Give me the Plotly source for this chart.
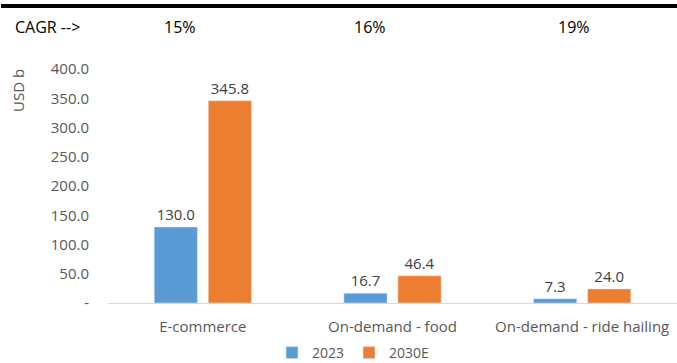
import plotly.graph_objects as go

categories = ["E-commerce", "On-demand - food", "On-demand - ride hailing"]
values_2023 = [130.0, 16.7, 7.3]
values_2030 = [345.8, 46.4, 24.0]
cagr = ["15%", "16%", "19%"]
tick_vals = [0, 50, 100, 150, 200, 250, 300, 350, 400]
tick_text = ["-", "50.0", "100.0", "150.0", "200.0", "250.0", "300.0", "350.0", "400.0"]

FONT = "Open Sans"
W, H = 677, 363
ML, MR, MT, MB = 108, 0, 69, 60

fig = go.Figure()
fig.add_trace(go.Bar(
    name="2023", x=categories, y=values_2023, marker_color="#5B9BD5",
    text=[f"{v:.1f}" for v in values_2023], textposition="outside",
    textfont=dict(color="#404040", size=15, family=FONT), cliponaxis=False,
))
fig.add_trace(go.Bar(
    name="2030E", x=categories, y=values_2030, marker_color="#ED7D31",
    text=[f"{v:.1f}" for v in values_2030], textposition="outside",
    textfont=dict(color="#404040", size=15, family=FONT), cliponaxis=False,
))

pw = W - ML - MR
ph = H - MT - MB
cagr_shift = [-23, -23, -8]
for i, c in enumerate(cagr):
    fig.add_annotation(x=i, xref="x", y=(H - 27 - MB) / ph, yref="paper",
                       text=c, showarrow=False, xshift=cagr_shift[i],
                       xanchor="center", yanchor="middle",
                       font=dict(size=16, color="#000000", family=FONT))
fig.add_annotation(x=(13 - ML) / pw, xref="paper", y=(H - 27 - MB) / ph, yref="paper",
                   text="CAGR -->", showarrow=False, xanchor="left", yanchor="middle",
                   font=dict(size=16, color="#000000", family=FONT))
fig.add_annotation(x=(18 - ML) / pw, xref="paper", y=(H - 91 - MB) / ph, yref="paper",
                   text="USD b", showarrow=False, textangle=-90,
                   xanchor="center", yanchor="middle",
                   font=dict(size=15, color="#595959", family=FONT))
fig.add_shape(type="rect", xref="paper", yref="paper",
              x0=(1 - ML) / pw, x1=1, y0=(H - 8 - MB) / ph, y1=(H - 4 - MB) / ph,
              fillcolor="#000000", line_width=0, layer="above")

fig.update_layout(
    width=W, height=H, autosize=False,
    margin=dict(l=ML, r=MR, t=MT, b=MB, autoexpand=False),
    paper_bgcolor="white", plot_bgcolor="white",
    barmode="group", bargap=0.43, bargroupgap=0.2,
    font=dict(family=FONT, color="#595959", size=14),
    showlegend=True,
    legend=dict(orientation="h", x=(272 - ML) / pw, xanchor="left",
                yref="container", y=(H - 353) / H, yanchor="middle",
                bgcolor="rgba(0,0,0,0)",
                font=dict(size=14, color="#595959", family=FONT),
                itemwidth=30, traceorder="normal", tracegroupgap=0),
    xaxis=dict(showline=True, linecolor="#D9D9D9", linewidth=1, ticks="",
               tickfont=dict(size=15, color="#595959"), showgrid=False,
               ticklabelstandoff=10),
    yaxis=dict(range=[0, 400], tickvals=tick_vals, ticktext=tick_text,
               showgrid=False, zeroline=False, showline=False,
               tickfont=dict(size=15, color="#595959"), ticklabelstandoff=18),
)

fig.write_html("out.html")
